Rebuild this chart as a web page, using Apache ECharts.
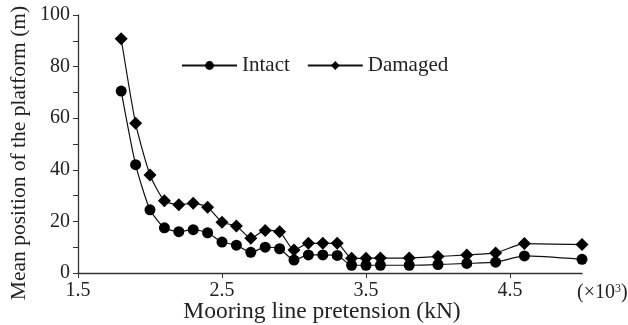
<!DOCTYPE html>
<html>
<head>
<meta charset="utf-8">
<style>html,body{margin:0;padding:0;background:#fff;}#c{width:628px;height:325px;}</style>
<script src="https://cdn.jsdelivr.net/npm/echarts@6/dist/echarts.min.js"></script>
</head>
<body>
<div id="c"></div>
<script>
const pretension = [1.8,1.9,2.0,2.1,2.2,2.3,2.4,2.5,2.6,2.7,2.8,2.9,3.0,3.1,3.2,3.3,3.4,3.5,3.6,3.8,4.0,4.2,4.4,4.6,5.0];
const intact = [70.5,42,24.5,17.5,16,16.8,15.6,12,10.8,8,10,9.4,5,7,7,6.8,3,3,3,3,3.3,3.7,4.2,6.6,5.3];
const damaged = [90.8,58,38,28,26.5,27,25.5,19.7,18.2,13.5,16.5,16,8.9,11.5,11.5,11.5,5.7,5.7,5.8,5.8,6.4,7,7.8,11.4,11];
const xTicks = [1.5,2.5,3.5,4.5];
const seriesNames = ['Intact','Damaged'];

const font = '"Liberation Serif", "Times New Roman", serif';
const chart = echarts.init(document.getElementById('c'), null, {renderer:'canvas'});
const pairs = arr => pretension.map((x,i)=>[x, arr[i]]);
chart.setOption({
  animation:false,
  backgroundColor:'#fff',
  grid:{left:78, right:46, top:15, bottom:52, containLabel:false, outerBoundsMode:'none'},
  legend:{
    left:176, top:50, itemWidth:55, itemHeight:11, itemGap:17,
    textStyle:{fontFamily:font, fontSize:21, color:'#222'},
    data:seriesNames
  },
  xAxis:{
    type:'value', min:1.5, max:5.0,
    axisLine:{lineStyle:{color:'#333', width:1.3}},
    axisTick:{customValues:xTicks, length:5, lineStyle:{color:'#333'}},
    axisLabel:{customValues:xTicks, margin:8, fontFamily:font, fontSize:20, color:'#222',
      formatter:v=>v.toFixed(1)},
    splitLine:{show:false},
    name:'Mooring line pretension (kN)', nameLocation:'middle', nameGap:27, nameMoveOverlap:false,
    nameTextStyle:{fontFamily:font, fontSize:23.5, color:'#222', padding:[0,16,0,0], verticalAlign:'top'}
  },
  yAxis:{
    type:'value', min:0, max:100, interval:10,
    axisLine:{show:true, lineStyle:{color:'#333', width:1.3}},
    axisTick:{show:true, length:5, lineStyle:{color:'#333'}},
    axisLabel:{interval:1, margin:8, fontFamily:font, fontSize:20, color:'#222',
      formatter:v=> (v%20===0? String(v):'')},
    splitLine:{show:false},
    name:'Mean position of the platform (m)', nameLocation:'middle', nameGap:48, nameMoveOverlap:false,
    nameTextStyle:{fontFamily:font, fontSize:21.5, color:'#222', padding:[0,18,0,0]}
  },
  graphic:[{
    type:'text', left:577, top:283,
    style:{text:'(×10{s|3})', fontFamily:font, fontSize:20, fill:'#222',
      rich:{s:{fontFamily:font, fontSize:12, verticalAlign:'top', padding:[0,0,8,0]}}}
  }],
  series:[
    {name:seriesNames[0], type:'line', data:pairs(intact), symbol:'circle', symbolSize:11,
      smooth:0.2, lineStyle:{color:'#111', width:1.2}, itemStyle:{color:'#000'}},
    {name:seriesNames[1], type:'line', data:pairs(damaged), symbol:'diamond', symbolSize:13,
      smooth:0.2, lineStyle:{color:'#111', width:1.2}, itemStyle:{color:'#000'}}
  ]
});
</script>
</body>
</html>
